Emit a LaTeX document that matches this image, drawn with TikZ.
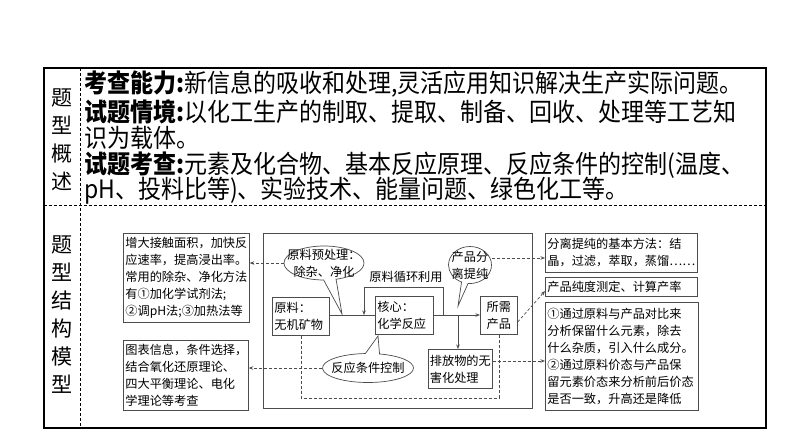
\documentclass[tikz,border=0pt]{standalone}
\usepackage{fontspec}
\usepackage{graphicx}
\setmainfont{Noto Sans CJK SC}
\usetikzlibrary{arrows.meta,shapes.callouts,shapes.geometric}
\newcommand{\dfont}{\fontsize{12.2pt}{17pt}\selectfont}
\newcommand{\hfont}{\fontsize{23pt}{27pt}\selectfont}
\newcommand{\vfont}{\fontsize{21pt}{28pt}\selectfont}
\newcommand{\hdrline}[1]{\scalebox{1}[1.1]{#1}}
\tikzset{
  dline/.style={draw=black!70, line width=0.7pt},
  dbox/.style={dline, anchor=north west, inner sep=2pt, align=left, font=\dfont},
  dtext/.style={font=\dfont, align=left, inner sep=0pt},
  arr/.style={-{Stealth[length=4.5pt,width=3.5pt]}},
  dsh/.style={dline, dash pattern=on 3pt off 2pt},
  bubble/.style={ellipse callout, dline, fill=white, inner sep=0pt, callout pointer arc=18},
  htext/.style={anchor=west, font=\hfont, inner sep=0pt},
  vtext/.style={font=\vfont, align=center, inner sep=0pt},
}
\begin{document}
\begin{tikzpicture}[x=1pt,y=-1pt]
\useasboundingbox (0,0) rectangle (794,447);
% table frame
\draw[line width=1.5pt] (44,68) rectangle (766,428);
\draw[line width=0.7pt, dash pattern=on 3pt off 2pt] (80,68) -- (80,428);
\draw[line width=0.7pt, dash pattern=on 3pt off 2pt] (44,205) -- (766,205);
% vertical labels
\node[vtext] (L1) at (62,140) {题\\型\\概\\述};
\node[vtext] (L2) at (62,315) {题\\型\\结\\构\\模\\型};
% header text
\node[htext] (H1) at (84,84) {\hdrline{\textbf{考查能力:}新信息的吸收和处理,灵活应用知识解决生产实际问题。}};
\node[htext] (H2) at (84,112) {\hdrline{\textbf{试题情境:}以化工生产的制取、提取、制备、回收、处理等工艺知}};
\node[htext] (H3) at (84,138) {\hdrline{识为载体。}};
\node[htext] (H4) at (84,165) {\hdrline{\textbf{试题考查:}元素及化合物、基本反应原理、反应条件的控制(温度、}};
\node[htext] (H5) at (84,191) {\hdrline{pH、投料比等)、实验技术、能量问题、绿色化工等。}};
% left boxes
\node[dbox, text width=122pt, minimum height=89pt] (B1) at (123,233)
  {增大接触面积，加快反\\应速率，提高浸出率。\\常用的除杂、净化方法\\有①加化学试剂法;\\②调pH法;③加热法等};
\node[dbox, text width=121pt, minimum height=70pt] (B2) at (123,340)
  {图表信息，条件选择，\\结合氧化还原理论、\\四大平衡理论、电化\\学理论等考查};
% middle frame
\draw[dline] (263,233) rectangle (532,408);
\node[dbox, text width=53pt, minimum height=38pt] (Raw) at (272,297) {原料：\\无机矿物};
\node[dbox, text width=54pt, minimum height=38pt] (Core) at (375,296) {核心：\\化学反应};
\node[dbox, text width=33pt, minimum height=38pt, align=center] (Prod) at (480,296) {所需\\产品};
\node[dbox, text width=61pt, minimum height=39pt, inner sep=1.5pt] (Waste) at (428,349) {排放物的无\\害化处理};
% flow lines
\coordinate (J1) at (364,315);
\coordinate (J2) at (443,315);
\coordinate (J3) at (458,315);
\draw[dline] (Raw.east |- J1) -- (Core.west |- J1);
\draw[dline, arr] (Core.east |- J2) -- (Prod.west |- J2);
\draw[dline, arr] (J2) -- (443,287) -- (364,287) -- (J1);
\draw[dline, arr] (J3) -- (J3 |- Waste.north);
\node[dtext] (Rec) at (406,277) {原料循环利用};
% dashed loop
\draw[dsh] (Raw.south) -- (Raw.south |- 0,398) -| (Prod.south);
% bubbles
\node[bubble, minimum width=80pt, minimum height=34pt, callout absolute pointer={(342,314)}] (C1) at (324,263) {};
\node[dtext, align=center] (C1t) at (324,263) {原料预处理：\\除杂、净化};
\node[bubble, minimum width=43pt, minimum height=37pt, callout absolute pointer={(458,306)}] (C2) at (470,265) {};
\node[dtext, align=center] (C2t) at (470,265) {产品分\\离提纯};
\node[bubble, minimum width=91pt, minimum height=29pt, callout absolute pointer={(378,336)}] (C3) at (368,368) {};
\node[dtext, align=center] (C3t) at (368,368) {反应条件控制};
% right boxes
\node[dbox, text width=148pt, minimum height=39pt] (R1) at (545,233)
  {分离提纯的基本方法：结\\晶，过滤，萃取，蒸馏……};
\node[dbox, text width=148pt, minimum height=19pt, inner sep=2pt] (R2) at (545,277) {产品纯度测定、计算产率};
\node[dbox, text width=149pt, minimum height=108pt] (R3) at (545,302)
  {①通过原料与产品对比来\\分析保留什么元素，除去\\什么杂质，引入什么成分。\\②通过原料价态与产品保\\留元素价态来分析前后价态\\是否一致，升高还是降低};
% dashed connectors
\draw[dsh, arr] (C1.west) -- (C1.west -| B1.east);
\draw[dsh, arr] (C3.west) -- (C3.west -| B2.east);
\draw[dsh, arr] (C2.east |- 0,258) -- (R1.west |- 0,258);
\draw[dsh, arr] (Waste.east |- 0,361) -- (R3.west |- 0,361);
\draw[dsh, arr] (Prod.east |- 0,322) -- (R2.west |- 0,291);
\end{tikzpicture}
\end{document}
